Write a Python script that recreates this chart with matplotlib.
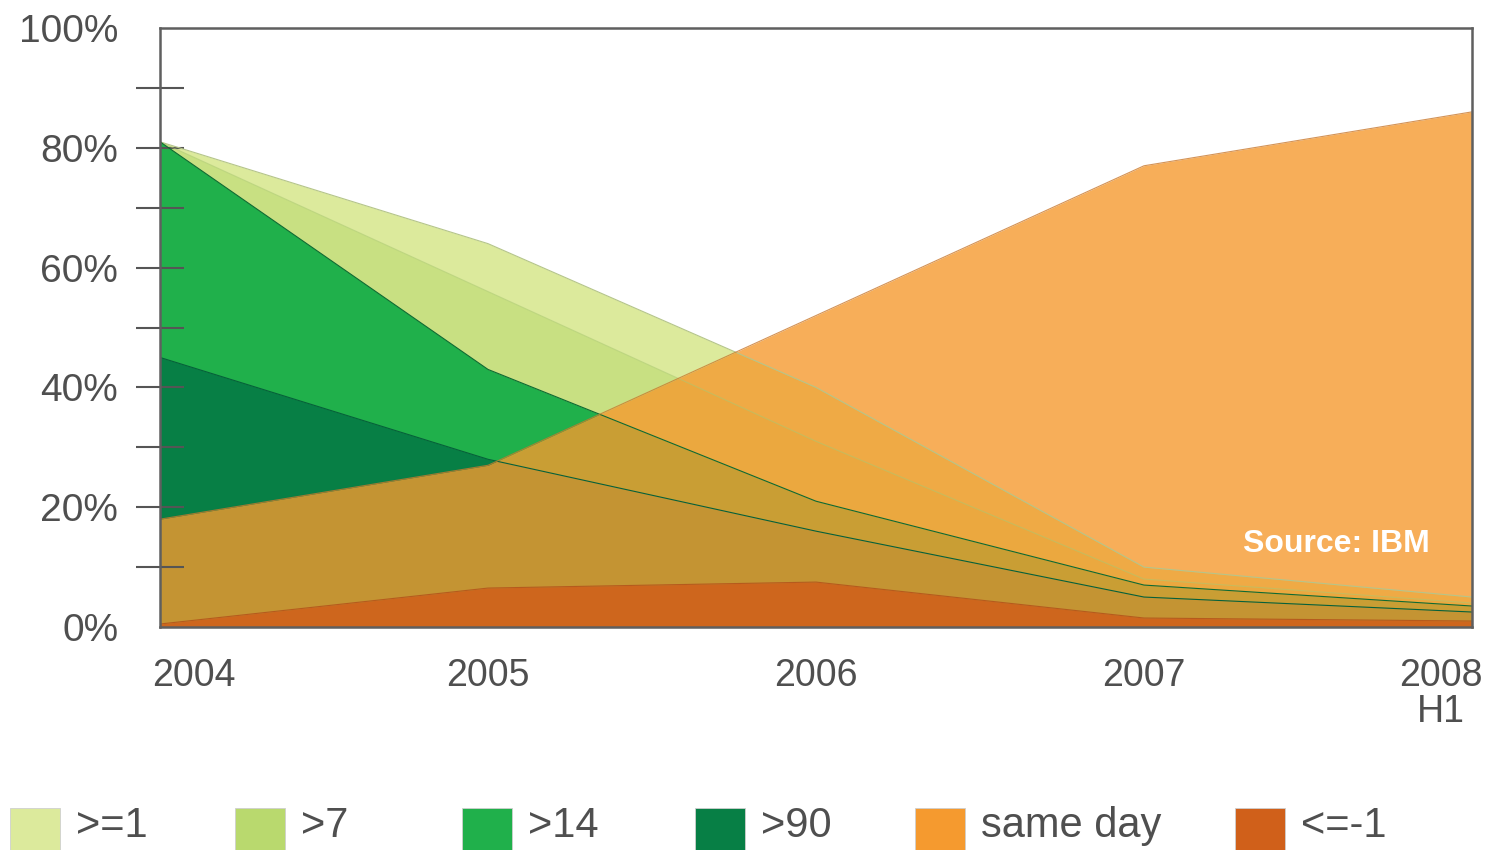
import matplotlib
matplotlib.use("Agg")
import matplotlib.pyplot as plt
import matplotlib.transforms as mtransforms
from matplotlib.patches import Rectangle
import numpy as np

plt.rcParams['font.family'] = ['Liberation Sans', 'DejaVu Sans']

# data (percent of vulnerabilities)
years = ["2004", "2005", "2006", "2007", "2008\nH1"]
ge1 = [81, 64, 40, 10, 5]          # >=1
gt7 = [81, 56, 31, 8, 4]           # >7
gt14 = [81, 43, 21, 7, 3.5]        # >14
gt90 = [45, 28, 16, 5, 2.5]        # >90
same_day = [18, 27, 52, 77, 86]    # same day
le_m1 = [0.5, 6.5, 7.5, 1.5, 1.0]  # <=-1

series_names = [">=1", ">7", ">14", ">90", "same day", "<=-1"]
series_colors = ["#dcea9c", "#b9d96e", "#20b04b", "#077f45", "#f59a2f", "#d0601a"]
series_alpha = [1.0, 0.55, 1.0, 1.0, 0.8, 0.88]
edge_colors = ["#b5c58a", "#a9c870", "#0e6a32", "#06603a", "#c9782c", "#b4531a"]

W, H = 1491, 850
fig = plt.figure(figsize=(W / 100, H / 100), dpi=100)
ax = fig.add_axes([160 / W, 1 - 627 / H, (1472 - 160) / W, (627 - 28) / H])

x = np.arange(len(years))
all_series = [ge1, gt7, gt14, gt90, same_day, le_m1]
for vals, c, a, ec in zip(all_series, series_colors, series_alpha, edge_colors):
    ax.fill_between(x, 0, vals, color=c, alpha=a, lw=0)
    ax.plot(x, vals, color=ec, lw=0.8, alpha=a)

ax.set_xlim(0, len(years) - 1)
ax.set_ylim(0, 100)

# y axis: labels every 20%, tick marks every 10%
ax.set_yticks(np.arange(0, 101, 20))
ax.set_yticklabels([f"{v}%" for v in range(0, 101, 20)])
ax.set_yticks(np.arange(10, 100, 10), minor=True)
ax.yaxis.remove_overlapping_locs = False
ax.tick_params(axis='y', which='major', length=0, pad=30, labelsize=28, labelcolor='#4f4f4f')
ax.tick_params(axis='y', which='minor', direction='inout', length=34, width=1.5, color='#555555')

# x axis labels
ax.set_xticks(x)
ax.set_xticklabels(years, fontsize=27, color='#4f4f4f', linespacing=1.0)
ax.tick_params(axis='x', length=0, pad=22)
xl = ax.get_xticklabels()
xl[0].set_ha('left')
xl[0].set_transform(xl[0].get_transform() + mtransforms.ScaledTranslation(-8 / 100, 0, fig.dpi_scale_trans))
xl[-1].set_ha('right')
xl[-1].set_multialignment('center')
xl[-1].set_transform(xl[-1].get_transform() + mtransforms.ScaledTranslation(11 / 100, 0, fig.dpi_scale_trans))

for sp in ax.spines.values():
    sp.set_color('#5f5f5f')
    sp.set_linewidth(1.8)

ax.text(0.968, 0.125, "Source: IBM", transform=ax.transAxes, ha='right', va='baseline',
        color='white', fontsize=23, fontweight='bold')

# legend along the bottom edge
swatch_x = [10, 235, 462, 695, 915, 1235]
for px, name, c in zip(swatch_x, series_names, series_colors):
    fig.add_artist(Rectangle((px / W, 1 - 854 / H), 50 / W, 46 / H, transform=fig.transFigure,
                             facecolor=c, edgecolor='#cfcfcf', lw=0.6))
    fig.text((px + 66) / W, 1 - 826 / H, name, ha='left', va='center',
             fontsize=30, color='#4f4f4f')

fig.savefig("out.png", dpi=100)
